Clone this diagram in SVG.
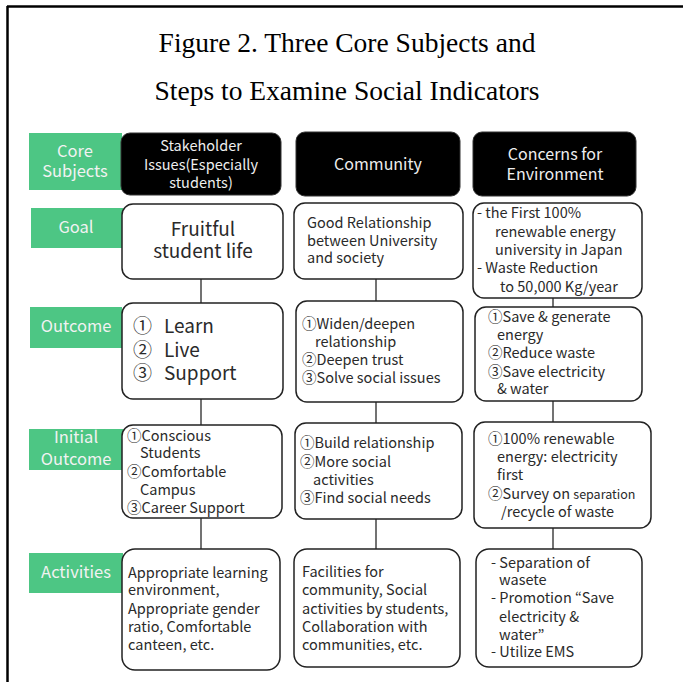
<svg xmlns="http://www.w3.org/2000/svg" width="683" height="682" viewBox="0 0 683 682">
<style>
.title{font-family:"Liberation Serif","Times New Roman",serif;font-size:27.5px;fill:#000;text-anchor:middle}
.lab rect{fill:#4dc684}
.lab text{font-family:"Noto Sans CJK JP","Noto Sans",sans-serif;font-size:16.5px;fill:#f2f2f2;text-anchor:middle}
.hdr rect{fill:#000;stroke:#333;stroke-width:1}
.hdr text{font-family:"Noto Sans CJK JP","Noto Sans",sans-serif;font-size:16px;fill:#eee;text-anchor:middle}
.box rect{fill:#fff;stroke:#222;stroke-width:1.5}
.box text{font-family:"Noto Sans CJK JP","Noto Sans",sans-serif;font-size:14.5px;fill:#2a2a2a}
.big{font-size:19px !important}
.ctr{text-anchor:middle}
.conn line{stroke:#444;stroke-width:1.5}
</style>
<g id="frame"><line x1="7" y1="6.5" x2="683" y2="6.5" stroke="#000" stroke-width="2.5"/><line x1="7.5" y1="6" x2="7.5" y2="682" stroke="#000" stroke-width="2.5"/></g>
<g id="title"><text class="title" x="347" y="52">Figure 2. Three Core Subjects and</text><text class="title" x="347" y="100">Steps to Examine Social Indicators</text></g>
<g class="conn" id="connectors">
<line x1="201" y1="279" x2="201" y2="303"/><line x1="201" y1="399" x2="201" y2="425"/><line x1="201" y1="518" x2="201" y2="549"/>
<line x1="376" y1="279" x2="376" y2="301"/><line x1="376" y1="402" x2="376" y2="423"/><line x1="376" y1="519" x2="376" y2="549"/>
<line x1="553" y1="298" x2="553" y2="307"/><line x1="553" y1="401" x2="553" y2="422"/><line x1="553" y1="528" x2="553" y2="549"/>
</g>
<g class="lab" id="lab-core"><rect x="29" y="133" width="93" height="57"/><text x="75" y="157">Core</text><text x="75" y="177">Subjects</text></g>
<g class="lab" id="lab-goal"><rect x="31" y="208" width="92" height="40"/><text x="76" y="233">Goal</text></g>
<g class="lab" id="lab-outcome"><rect x="30" y="307" width="92" height="41"/><text x="76" y="332">Outcome</text></g>
<g class="lab" id="lab-initial"><rect x="29" y="429" width="94" height="41"/><text x="76" y="443">Initial</text><text x="76" y="465">Outcome</text></g>
<g class="lab" id="lab-activities"><rect x="29" y="553" width="94" height="40"/><text x="76" y="578">Activities</text></g>
<g class="hdr" id="hdr1"><rect x="121" y="133" width="160" height="62" rx="9"/><text x="201" y="151" style="font-size:14.5px">Stakeholder</text><text x="201" y="170" style="font-size:14.5px">Issues(Especially</text><text x="201" y="188" style="font-size:14.5px">students)</text></g>
<g class="hdr" id="hdr2"><rect x="296" y="132" width="164" height="64" rx="9"/><text x="378" y="170">Community</text></g>
<g class="hdr" id="hdr3"><rect x="473" y="132" width="163" height="64" rx="9"/><text x="555" y="160">Concerns for</text><text x="555" y="180">Environment</text></g>
<g class="box" id="goal1"><rect x="122" y="204" width="161" height="75" rx="11"/><text class="big ctr" x="203" y="236">Fruitful</text><text class="big ctr" x="203" y="258">student life</text></g>
<g class="box" id="goal2"><rect x="294" y="203" width="169" height="76" rx="11"/><text x="307" y="228">Good Relationship</text><text x="307" y="246">between University</text><text x="307" y="263">and society</text></g>
<g class="box" id="goal3"><rect x="473" y="203" width="169" height="95" rx="11"/><text x="477" y="218">- the First 100%</text><text x="495" y="237">renewable energy</text><text x="495" y="255">university in Japan</text><text x="477" y="273">- Waste Reduction</text><text x="500" y="292">to 50,000 Kg/year</text></g>
<g class="box" id="out1"><rect x="122" y="303" width="161" height="96" rx="11"/><text class="big" x="133" y="333">①</text><text class="big" x="164" y="333">Learn</text><text class="big" x="133" y="357">②</text><text class="big" x="164" y="357">Live</text><text class="big" x="133" y="380">③</text><text class="big" x="164" y="380">Support</text></g>
<g class="box" id="out2"><rect x="296" y="301" width="167" height="101" rx="11"/><text x="302" y="329">①Widen/deepen</text><text x="315" y="347">relationship</text><text x="302" y="365">②Deepen trust</text><text x="302" y="383">③Solve social issues</text></g>
<g class="box" id="out3"><rect x="475" y="307" width="167" height="94" rx="11"/><text x="488" y="322">①Save &amp; generate</text><text x="497" y="340">energy</text><text x="488" y="358">②Reduce waste</text><text x="488" y="377">③Save electricity</text><text x="497" y="394">&amp; water</text></g>
<g class="box" id="init1"><rect x="122" y="425" width="160" height="93" rx="11"/><text x="127" y="441">①Conscious</text><text x="140" y="458">Students</text><text x="127" y="477">②Comfortable</text><text x="140" y="495">Campus</text><text x="127" y="513">③Career Support</text></g>
<g class="box" id="init2"><rect x="295" y="423" width="167" height="96" rx="11"/><text x="300" y="448">①Build relationship</text><text x="300" y="467">②More social</text><text x="313" y="485">activities</text><text x="300" y="503">③Find social needs</text></g>
<g class="box" id="init3"><rect x="474" y="422" width="177" height="106" rx="11"/><text x="488" y="444">①100% renewable</text><text x="497" y="462">energy: electricity</text><text x="497" y="480">first</text><text x="488" y="499">②Survey on <tspan style="font-size:12.5px">separation</tspan></text><text x="501" y="517">/recycle of waste</text></g>
<g class="box" id="act1"><rect x="122" y="549" width="158" height="121" rx="13"/><text x="128" y="578">Appropriate learning</text><text x="128" y="595">environment,</text><text x="128" y="614">Appropriate gender</text><text x="128" y="632">ratio, Comfortable</text><text x="128" y="650">canteen, etc.</text></g>
<g class="box" id="act2"><rect x="294" y="549" width="166" height="118" rx="13"/><text x="302" y="577">Facilities for</text><text x="302" y="595">community, Social</text><text x="302" y="614">activities by students,</text><text x="302" y="632">Collaboration with</text><text x="302" y="650">communities, etc.</text></g>
<g class="box" id="act3"><rect x="476" y="549" width="166" height="118" rx="13"/><text x="491" y="568">- Separation of</text><text x="499" y="585">wasete</text><text x="491" y="603">- Promotion “Save</text><text x="499" y="622">electricity &amp;</text><text x="499" y="640">water”</text><text x="491" y="657">- Utilize EMS</text></g>
</svg>
